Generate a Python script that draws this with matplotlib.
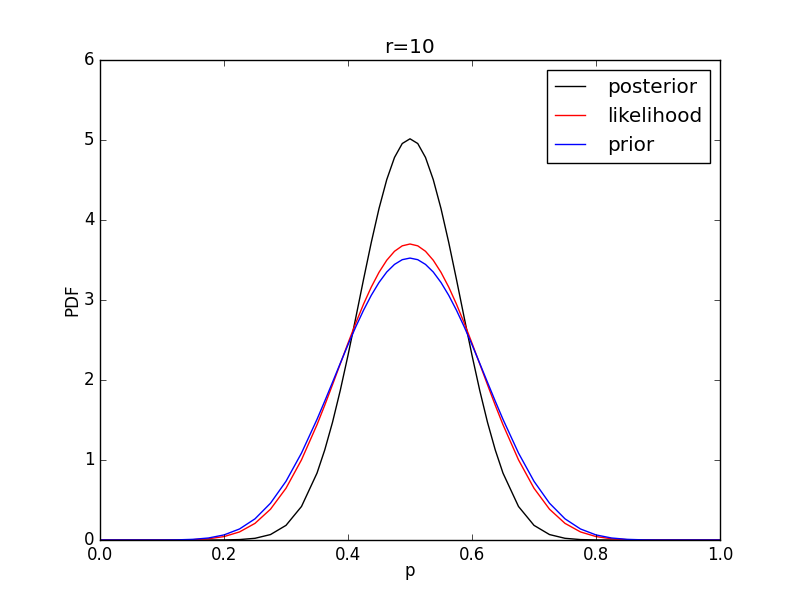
import matplotlib
matplotlib.use('Agg')
import matplotlib.pyplot as plt

# p grid and curve values
p = [0.0, 0.1, 0.125, 0.15, 0.175, 0.2, 0.225, 0.25, 0.275, 0.3, 0.325,
     0.35, 0.3625, 0.375, 0.3875, 0.4, 0.4125, 0.425, 0.4375, 0.45, 0.4625,
     0.475, 0.4875, 0.5, 0.5125, 0.525, 0.5375, 0.55, 0.5625, 0.575, 0.5875,
     0.6, 0.6125, 0.625, 0.6375, 0.65, 0.675, 0.7, 0.725, 0.75, 0.775, 0.8,
     0.825, 0.85, 0.875, 0.9, 1.0]

posterior = [0.0, 0.0, 0.0, 0.0, 0.0001, 0.001, 0.0053, 0.0212, 0.068, 0.183, 0.419,
             0.836, 1.126, 1.471, 1.869, 2.309, 2.777, 3.255, 3.718, 4.143, 4.505,
             4.782, 4.956, 5.015, 4.956, 4.782, 4.505, 4.143, 3.718, 3.255, 2.777,
             2.309, 1.869, 1.471, 1.126, 0.836, 0.419, 0.183, 0.068, 0.0212, 0.0053, 0.001,
             0.0001, 0.0, 0.0, 0.0, 0.0]

likelihood = [0.0, 0.0001, 0.001, 0.0044, 0.0153, 0.0427, 0.1008, 0.208, 0.385, 0.647, 1.002,
              1.441, 1.685, 1.941, 2.201, 2.460, 2.711, 2.947, 3.161, 3.346, 3.497,
              3.609, 3.677, 3.700, 3.677, 3.609, 3.497, 3.346, 3.161, 2.947, 2.711,
              2.460, 2.201, 1.941, 1.685, 1.441, 1.002, 0.647, 0.385, 0.208, 0.1008, 0.0427,
              0.0153, 0.0044, 0.001, 0.0001, 0.0]

prior = [0.0, 0.0004, 0.0021, 0.0082, 0.0252, 0.0635, 0.1377, 0.2646, 0.460, 0.734, 1.087,
         1.508, 1.736, 1.971, 2.208, 2.441, 2.664, 2.871, 3.058, 3.219, 3.350,
         3.445, 3.504, 3.524, 3.504, 3.445, 3.350, 3.219, 3.058, 2.871, 2.664,
         2.441, 2.208, 1.971, 1.736, 1.508, 1.087, 0.734, 0.460, 0.2646, 0.1377, 0.0635,
         0.0252, 0.0082, 0.0021, 0.0004, 0.0]

plt.style.use('classic')
fig = plt.figure(figsize=(8, 6))
plt.plot(p, posterior, 'k-', label='posterior')
plt.plot(p, likelihood, 'r-', label='likelihood')
plt.plot(p, prior, 'b-', label='prior')
plt.xlim(0, 1)
plt.ylim(0, 6)
plt.xlabel('p', labelpad=-1)
plt.ylabel('PDF', labelpad=1.5)
plt.title('r=10')
plt.legend(loc='upper right', fontsize='large', numpoints=1,
           handlelength=1.5, handletextpad=1.1)
plt.savefig('out.png', dpi=100, facecolor='white')
